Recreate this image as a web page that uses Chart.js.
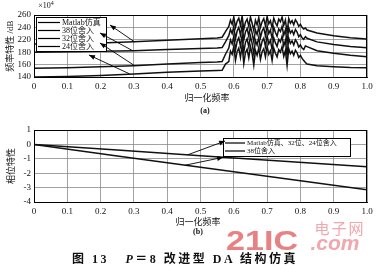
<!DOCTYPE html>
<html><head><meta charset="utf-8">
<script src="https://cdn.jsdelivr.net/npm/chart.js@4/dist/chart.umd.min.js"></script>
<style>
html,body{margin:0;padding:0;background:#fff;}
#wrap{position:relative;width:378px;height:271px;overflow:hidden;font-family:'Liberation Serif','Noto Sans CJK SC',serif;color:#111;}
canvas{position:absolute;left:0;}
.t{position:absolute;white-space:nowrap;transform:translate(-50%,-50%);}
.v{position:absolute;white-space:nowrap;transform:translate(-50%,-50%) rotate(-90deg);}
</style></head><body>
<div id="wrap">
<canvas id="ca" width="378" height="100" style="top:0"></canvas>
<canvas id="cb" width="378" height="100" style="top:118px"></canvas>
<div class="t" style="left:46px;top:5px;font-size:8px;">×10<sup style="font-size:6px">4</sup></div>
<div class="v" style="left:9px;top:46px;font-size:9px;">频率特性 /dB</div>
<div class="t" style="left:207px;top:97px;font-size:9px;">归一化频率</div>
<div class="t" style="left:205px;top:110px;font-size:8px;font-weight:bold;">(a)</div>
<div class="v" style="left:10px;top:166px;font-size:9px;">相位特性</div>
<div class="t" style="left:198px;top:221px;font-size:9px;">归一化频率</div>
<div class="t" style="left:198px;top:231px;font-size:8px;font-weight:bold;">(b)</div>
<div class="t" style="left:262px;top:241px;font-family:'Liberation Sans',sans-serif;font-weight:bold;font-size:28px;color:#e46b6b;opacity:0.85;transform:translate(-50%,-50%) scaleX(1.22);">21IC</div>
<div class="t" style="left:340px;top:227px;font-family:'Noto Sans CJK SC',sans-serif;font-size:15px;letter-spacing:2px;color:#f2a6ae;">电子网</div>
<div class="t" style="left:335px;top:243px;font-family:'Liberation Sans',sans-serif;font-weight:bold;font-style:italic;font-size:21px;color:#f2a6ae;">.com</div>
<div class="t" style="left:185px;top:258px;font-size:12px;font-weight:bold;letter-spacing:2.5px;font-family:'Liberation Serif','Noto Sans CJK SC',serif;">图 13&nbsp;&nbsp;&nbsp;<i>P</i>＝8 改进型 DA 结构仿真</div>
</div>
<script>
// ---------- data ----------
const xTickLabels = ['0','0.1','0.2','0.3','0.4','0.5','0.6','0.7','0.8','0.9','1.0'];
const yTicksA = ['140','160','180','220','240','260'];
const namesA = ['Matlab仿真','38位舍入','32位舍入','24位舍入'];
const freqA = [0,0.1,0.2,0.3,0.4,0.5,0.55,0.565,0.575,
 0.585,0.59,0.595,0.6,0.605,0.61,0.615,0.62,0.625,0.63,0.635,0.64,0.645,0.65,0.655,0.66,0.665,0.67,0.675,0.68,
 0.685,0.69,0.695,0.7,0.705,0.71,0.715,0.72,0.725,0.73,0.735,0.74,0.745,0.75,0.755,0.76,0.765,0.77,0.775,0.78,
 0.785,0.79,0.795,0.8,0.805,0.81,
 0.815,0.82,0.85,0.9,0.95,1.0];
const matlabA = [204,205,206,208,211,214,215.5,217,228,
 238,250,242,256,236,248,254,240,258,232,246,252,238,256,244,230,250,241,255,236,247,253,239,257,243,249,235,254,245,239,252,247,256,240,250,226,253,244,249,241,251,246,238,242,236,233,
 235,231,225,220,216,213.5];
const bit38A = [188,189,190,191,193,195,196,197,208,
 220,232,224,238,214,229,236,221,240,212,227,234,219,238,225,208,231,222,237,216,229,235,220,239,224,231,214,236,226,219,233,228,238,221,231,206,235,225,230,222,232,227,218,222,216,213,
 218,215,208,203,199,196.7];
const bit32A = [157,158,160,162,165,168,169,170,184,
 196,212,204,219,192,209,216,200,221,188,207,214,198,219,205,184,211,202,217,195,209,215,199,220,204,211,193,216,206,199,213,208,219,200,211,182,215,205,210,202,212,207,198,202,196,193,
 200,198.7,191,186,182,179];
const bit24A = [140,141,143,146,149,151.5,152.6,153,165,
 170,190,184,199,172,189,196,178,201,166,187,194,177,199,185,163,191,182,197,174,189,195,179,200,184,191,172,196,186,179,193,188,199,180,191,162,195,185,190,182,192,187,178,182,176,172,
 168,165,162,160,158.5,157.8];
// arrows: [fromX, fromY, toX, toY] in data units
const arrowsA = [[0.302,208,0.228,240.7],[0.296,191,0.198,225.2],[0.302,162,0.198,205.8],[0.287,146,0.165,182.6]];

const namesB = ['Matlab仿真、32位、24位舍入','38位舍入'];
const freqB = [0,0.25,0.5,0.75,1.0];
const phaseMatlabB = [0,-0.39,-0.78,-1.17,-1.55];
const phase38B = [0,-0.8,-1.58,-2.37,-3.15];
const arrowsB = [[0.462,-0.72,0.574,0.236],[0.453,-1.45,0.568,-0.896]];

// ---------- helpers ----------
const FONT = "'Liberation Serif','Noto Sans CJK SC',serif";
const pts = (xs, ys) => xs.map((x,i)=>({x, y: ys[i]}));

const notes = {
  id: 'notes',
  afterDatasetsDraw(chart, args, o) {
    const {ctx, chartArea: a, scales: {x, y}} = chart;
    ctx.save();
    ctx.strokeStyle = '#000'; ctx.lineWidth = 1;
    ctx.strokeRect(Math.round(a.left)+0.5, Math.round(a.top)+0.5, Math.round(a.right-a.left)-1, Math.round(a.bottom-a.top));
    // legend
    const L = o.legend;
    ctx.fillStyle = '#fff';
    ctx.fillRect(L.left, L.top, L.width, L.height);
    ctx.strokeRect(L.left+0.5, L.top+0.5, L.width, L.height);
    ctx.font = L.font; ctx.fillStyle = '#111'; ctx.textBaseline = 'middle';
    L.names.forEach((n, i) => {
      const yy = L.top + L.first + i*L.step;
      ctx.beginPath(); ctx.lineWidth = 1.2;
      ctx.moveTo(L.left+2, yy); ctx.lineTo(L.left+2+L.lineLen, yy); ctx.stroke();
      ctx.fillText(n, L.left+4+L.lineLen, yy);
    });
    // arrows
    ctx.lineWidth = 0.9; ctx.fillStyle = '#000';
    o.arrows.forEach(([x0,y0,x1,y1]) => {
      const px0 = x.getPixelForValue(x0), py0 = y.getPixelForValue(y0);
      const px1 = x.getPixelForValue(x1), py1 = y.getPixelForValue(y1);
      const ang = Math.atan2(py1-py0, px1-px0);
      ctx.beginPath(); ctx.moveTo(px0,py0); ctx.lineTo(px1,py1); ctx.stroke();
      const len = 6, w = 2.4;
      ctx.beginPath();
      ctx.moveTo(px1, py1);
      ctx.lineTo(px1 - len*Math.cos(ang) + w*Math.sin(ang), py1 - len*Math.sin(ang) - w*Math.cos(ang));
      ctx.lineTo(px1 - len*Math.cos(ang) - w*Math.sin(ang), py1 - len*Math.sin(ang) + w*Math.cos(ang));
      ctx.closePath(); ctx.fill();
    });
    ctx.restore();
  }
};

function lineDs(label, data) {
  return {label, data, borderColor:'#111', borderWidth:1.5, pointRadius:0, tension:0, fill:false};
}
const gridOpt = {color:'#8a8a8a', borderDash:[1,2], lineWidth:0.8, drawTicks:false};
function xScale(h) {
  return {type:'linear', min:0, max:1,
    ticks:{stepSize:0.1, autoSkip:false, maxRotation:0, padding:4, color:'#111', font:{family:FONT, size:9},
      callback:(v,i)=>xTickLabels[i]},
    grid:gridOpt, border:{display:true, color:'#000', width:1},
    afterFit(s){ s.height = h; }};
}

new Chart(document.getElementById('ca'), {
  type:'line',
  data:{datasets:[lineDs(namesA[0], pts(freqA, matlabA)), lineDs(namesA[1], pts(freqA, bit38A)),
                  lineDs(namesA[2], pts(freqA, bit32A)), lineDs(namesA[3], pts(freqA, bit24A))]},
  options:{responsive:false, devicePixelRatio:1, animation:false,
    layout:{padding:{top:15, right:11, left:0, bottom:0}},
    plugins:{legend:{display:false}, tooltip:{enabled:false},
      notes:{arrows:arrowsA, legend:{names:namesA, left:36, top:17, width:70, height:34, first:5.5, step:8, lineLen:22, font:"8px "+FONT}}},
    scales:{
      x: xScale(23),
      y:{type:'linear', min:140, max:260,
        ticks:{stepSize:24, autoSkip:false, padding:3, color:'#111', font:{family:FONT, size:9}, callback:(v,i)=>yTicksA[i]},
        grid:gridOpt, border:{display:true, color:'#000', width:1},
        afterFit(s){ s.width = 34; }}
    }},
  plugins:[notes]
});

new Chart(document.getElementById('cb'), {
  type:'line',
  data:{datasets:[lineDs(namesB[0], pts(freqB, phaseMatlabB)), lineDs(namesB[1], pts(freqB, phase38B))]},
  options:{responsive:false, devicePixelRatio:1, animation:false,
    layout:{padding:{top:12, right:11, left:0, bottom:0}},
    plugins:{legend:{display:false}, tooltip:{enabled:false},
      notes:{arrows:arrowsB, legend:{names:namesB, left:223, top:20, width:127, height:18, first:5, step:8, lineLen:20, font:"7px "+FONT}}},
    scales:{
      x: xScale(16),
      y:{type:'linear', min:-4, max:1,
        ticks:{stepSize:1, autoSkip:false, padding:3, color:'#111', font:{family:FONT, size:9}, callback:v=>String(v)},
        grid:gridOpt, border:{display:true, color:'#000', width:1},
        afterFit(s){ s.width = 34; }}
    }},
  plugins:[notes]
});
</script>
</body></html>
